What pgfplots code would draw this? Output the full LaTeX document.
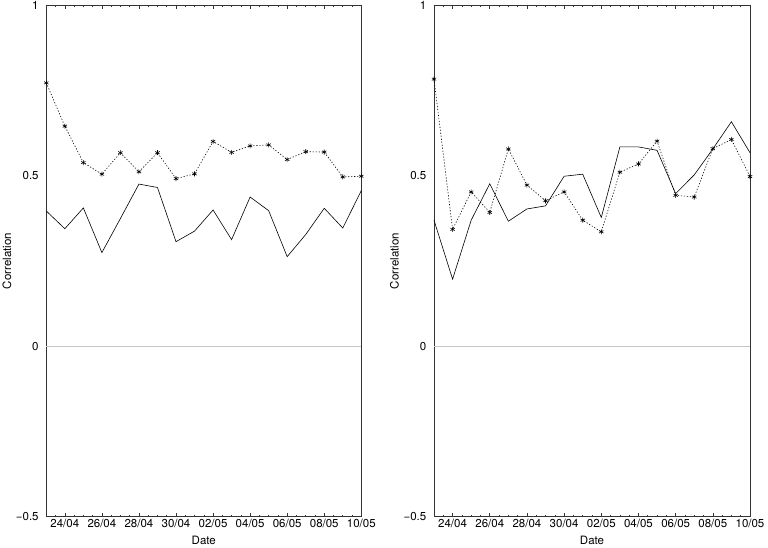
\documentclass[border=0pt]{standalone}
\usepackage{pgfplots}
\pgfplotsset{compat=1.18}
\usepackage{fontspec}
\setmainfont{TeX Gyre Heros}
\begin{document}
\fontsize{12}{14}\selectfont
\begin{tikzpicture}
\path[use as bounding box] (0pt,0pt) rectangle (768pt,548pt);
\pgfplotsset{
 myax/.style={
  scale only axis, height=511.2pt,
  xmin=0, xmax=17, ymin=-0.5, ymax=1,
  xtick={1,3,5,7,9,11,13,15,17},
  xticklabels={24/04,26/04,28/04,30/04,02/05,04/05,06/05,08/05,10/05},
  minor xtick={0,0.5,...,17},
  xtick pos=both, xtick align=inside,
  major tick length=3.5pt, minor tick length=2pt,
  ytick={-0.5,0,0.5,1}, yticklabels={−0.5,0,0.5,1},
  ytick style={draw=none},
  axis line style={black!80, line width=0.8pt},
  every tick/.style={black!80, line width=0.6pt},
  xticklabel style={font=\fontsize{11.5}{13}\selectfont, inner sep=2pt},
  yticklabel style={font=\fontsize{11.5}{13}\selectfont, xshift=-3.5pt},
  xlabel=Date, ylabel=Correlation,
  xlabel style={at={(axis description cs:0.5,-0.047)}, anchor=center, font=\fontsize{11.5}{13}\selectfont},
  ylabel style={at={(axis description cs:-0.125,0.5)}, anchor=center, font=\fontsize{11.5}{13}\selectfont},
  clip=false,
 },
 solidser/.style={black, line width=0.6pt, mark=none},
 dotser/.style={black, dash pattern=on 1.2pt off 1.8pt, line width=0.6pt, mark=asterisk, mark size=2.5pt, mark options={solid, line width=0.6pt}},
 zeroline/.style={gray!45, line width=0.6pt, forget plot},
}
\begin{axis}[myax, width=315pt, at={(46.3pt,31.3pt)}, anchor=south west]
\addplot[zeroline] coordinates {(0,0) (17,0)};
\addplot[solidser] coordinates {
(0,0.397) (1,0.345) (2,0.406) (3,0.275) (4,0.375) (5,0.476) (6,0.466) (7,0.307) (8,0.338)
(9,0.400) (10,0.313) (11,0.438) (12,0.398) (13,0.263) (14,0.328) (15,0.405) (16,0.347) (17,0.457)};
\addplot[dotser] coordinates {
(0,0.773) (1,0.646) (2,0.539) (3,0.505) (4,0.568) (5,0.512) (6,0.568) (7,0.492) (8,0.506)
(9,0.601) (10,0.569) (11,0.588) (12,0.591) (13,0.548) (14,0.571) (15,0.570) (16,0.497) (17,0.499)};
\end{axis}
\begin{axis}[myax, width=316pt, at={(434pt,31.3pt)}, anchor=south west]
\addplot[zeroline] coordinates {(0,0) (17,0)};
\addplot[solidser] coordinates {
(0,0.370) (1,0.197) (2,0.370) (3,0.477) (4,0.367) (5,0.403) (6,0.412) (7,0.499) (8,0.505)
(9,0.378) (10,0.585) (11,0.585) (12,0.575) (13,0.448) (14,0.503) (15,0.579) (16,0.659) (17,0.568)};
\addplot[dotser] coordinates {
(0,0.784) (1,0.343) (2,0.453) (3,0.393) (4,0.579) (5,0.473) (6,0.427) (7,0.453) (8,0.370)
(9,0.336) (10,0.511) (11,0.535) (12,0.602) (13,0.443) (14,0.438) (15,0.580) (16,0.607) (17,0.498)};
\end{axis}
\end{tikzpicture}
\end{document}
